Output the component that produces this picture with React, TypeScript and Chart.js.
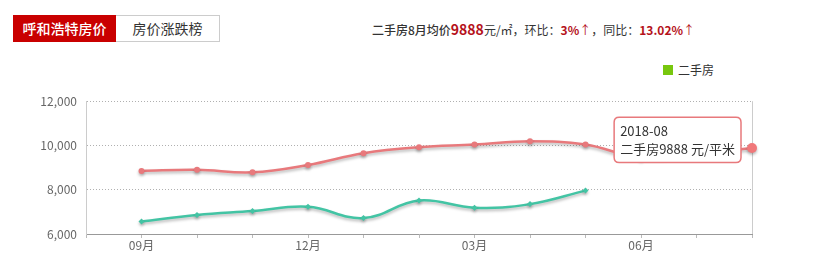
import React, { useEffect, useRef } from "react";
import { Chart, registerables, Tooltip } from "chart.js";

Chart.register(...registerables);

const months = ["2017-08", "2017-09", "2017-10", "2017-11", "2017-12", "2018-01", "2018-02", "2018-03", "2018-04", "2018-05", "2018-06", "2018-07", "2018-08"];
const resaleName = "二手房";
const resaleValues = [null, 8850, 8900, 8790, 9120, 9650, 9920, 10040, 10190, 10040, 9450, 9600, 9888];
const newName = "新房";
const newValues = [null, 6570, 6860, 7035, 7230, 6720, 7510, 7185, 7350, 7960, null, null, null];
const yMin = 6000;
const yMax = 12000;
const yStep = 2000;
const shownTickIdx = [1, 4, 7, 10];

const FONT = "'Noto Sans CJK SC', 'Noto Sans', sans-serif";
const RED = "#e8797c";
const GREEN = "#43c4a4";

(Tooltip as any).positioners.sideLeft = function (items: any[]) {
  if (!items.length) return false;
  const el = items[0].element;
  return { x: el.x, y: el.y - 8 };
};

const shadowPlugin = {
  id: "lineShadow",
  beforeDatasetDraw(chart: any) {
    const ctx = chart.ctx;
    ctx.save();
    ctx.shadowColor = "rgba(0,0,0,0.28)";
    ctx.shadowBlur = 3;
    ctx.shadowOffsetY = 2;
  },
  afterDatasetDraw(chart: any) {
    chart.ctx.restore();
  },
};

const crosshairPlugin = {
  id: "crosshair",
  beforeDatasetsDraw(chart: any) {
    const act = chart.getActiveElements();
    if (!act.length) return;
    const x = act[0].element.x;
    const { top, bottom } = chart.chartArea;
    const ctx = chart.ctx;
    ctx.save();
    ctx.strokeStyle = "#cccccc";
    ctx.lineWidth = 1;
    ctx.beginPath();
    ctx.moveTo(Math.round(x) + 0.5, top);
    ctx.lineTo(Math.round(x) + 0.5, bottom);
    ctx.stroke();
    ctx.restore();
  },
};

export default function App() {
  const ref = useRef<HTMLCanvasElement>(null);
  useEffect(() => {
    if (!ref.current) return;
    const chart = new Chart(ref.current, {
      type: "line",
      data: {
        labels: months,
        datasets: [
          {
            label: resaleName,
            data: resaleValues,
            borderColor: RED,
            backgroundColor: RED,
            borderWidth: 2.5,
            pointRadius: 3,
            pointHoverRadius: 5,
            pointBorderWidth: 0,
            pointHoverBorderWidth: 0,
            pointBackgroundColor: RED,
            pointHoverBackgroundColor: "#f0787a",
            tension: 0.4,
            clip: false as any,
          },
          {
            label: newName,
            data: newValues,
            borderColor: GREEN,
            backgroundColor: GREEN,
            borderWidth: 2.5,
            pointStyle: "rectRot",
            pointRadius: 3,
            pointBorderWidth: 0,
            pointBackgroundColor: GREEN,
            tension: 0.4,
          },
        ],
      },
      options: {
        animation: false,
        responsive: false,
        events: [],
        layout: { padding: { left: 0, right: 82, top: 16, bottom: 0 } },
        plugins: {
          legend: { display: false },
          tooltip: {
            enabled: true,
            position: "sideLeft" as any,
            xAlign: "right",
            yAlign: "center",
            caretSize: 0,
            caretPadding: 11,
            backgroundColor: "#ffffff",
            borderColor: RED,
            borderWidth: 1.5,
            cornerRadius: 5,
            padding: { left: 6, right: 6, top: 6, bottom: 6 },
            titleColor: "#333",
            bodyColor: "#333",
            titleFont: { family: FONT, size: 13, weight: "normal" },
            bodyFont: { family: FONT, size: 13 },
            titleMarginBottom: 2,
            displayColors: false,
            callbacks: {
              label: (item: any) => `${item.dataset.label}${item.raw} 元/平米`,
            },
          },
        },
        scales: {
          x: {
            offset: false,
            border: { color: "#999", width: 1 },
            grid: { drawOnChartArea: false, drawTicks: true, tickLength: 4, color: "#bbb" },
            ticks: {
              autoSkip: false,
              maxRotation: 0,
              padding: 0,
              color: "#666",
              font: { family: FONT, size: 12 },
              callback: (_v: any, i: number) => (shownTickIdx.includes(i) ? months[i].slice(5) + "月" : ""),
            },
            afterFit: (s: any) => {
              s.height = 28;
            },
          },
          y: {
            min: yMin,
            max: yMax,
            border: { color: "#ccc", width: 1, dash: [1, 2] },
            grid: { drawTicks: false, color: "#b0b0b0", lineWidth: 1 },
            ticks: {
              stepSize: yStep,
              padding: 9,
              color: "#666",
              font: { family: FONT, size: 12 },
              callback: (v: any) => Number(v).toLocaleString("en-US"),
            },
            afterFit: (s: any) => {
              s.width = 86;
            },
          },
        },
      },
      plugins: [shadowPlugin, crosshairPlugin],
    } as any);
    const idx = months.length - 1;
    const pt: any = chart.getDatasetMeta(0).data[idx];
    chart.setActiveElements([{ datasetIndex: 0, index: idx }]);
    chart.tooltip!.setActiveElements([{ datasetIndex: 0, index: idx }], { x: pt.x, y: pt.y });
    chart.update();
    return () => chart.destroy();
  }, []);

  return (
    <div style={{ position: "absolute", left: 0, top: 0, width: 834, height: 262, background: "#fff", fontFamily: FONT, overflow: "hidden" }}>
      <div style={{ position: "absolute", left: 13, top: 15, width: 103, height: 27, background: "#c90000", color: "#fff", fontSize: 14, lineHeight: "27px", textAlign: "center", fontWeight: 500 }}>呼和浩特房价</div>
      <div style={{ position: "absolute", left: 116, top: 15, width: 103, height: 25, border: "1px solid #ccc", borderLeft: "none", color: "#333", fontSize: 14, lineHeight: "25px", textAlign: "center" }}>房价涨跌榜</div>
      <div style={{ position: "absolute", left: 372, top: 18, fontSize: 12, color: "#333", whiteSpace: "nowrap", lineHeight: "22px" }}>
        <span style={{ fontWeight: 500 }}>二手房8月均价</span>
        <span style={{ color: "#b5121b", fontWeight: "bold", fontSize: 14 }}>9888</span>
        <span>元/㎡，环比：</span>
        <span style={{ color: "#b5121b", fontWeight: "bold" }}>3%</span>
        <span style={{ color: "#b5121b" }}>↑</span>
        <span>，同比：</span>
        <span style={{ color: "#b5121b", fontWeight: "bold" }}>13.02%</span>
        <span style={{ color: "#b5121b" }}>↑</span>
      </div>
      <div style={{ position: "absolute", left: 663, top: 65, width: 10, height: 10, background: "#78c70e" }} />
      <div style={{ position: "absolute", left: 678, top: 62, fontSize: 12, color: "#333", lineHeight: "16px" }}>二手房</div>
      <canvas ref={ref} width={834} height={177} style={{ position: "absolute", left: 0, top: 85, width: 834, height: 177 }} />
    </div>
  );
}
